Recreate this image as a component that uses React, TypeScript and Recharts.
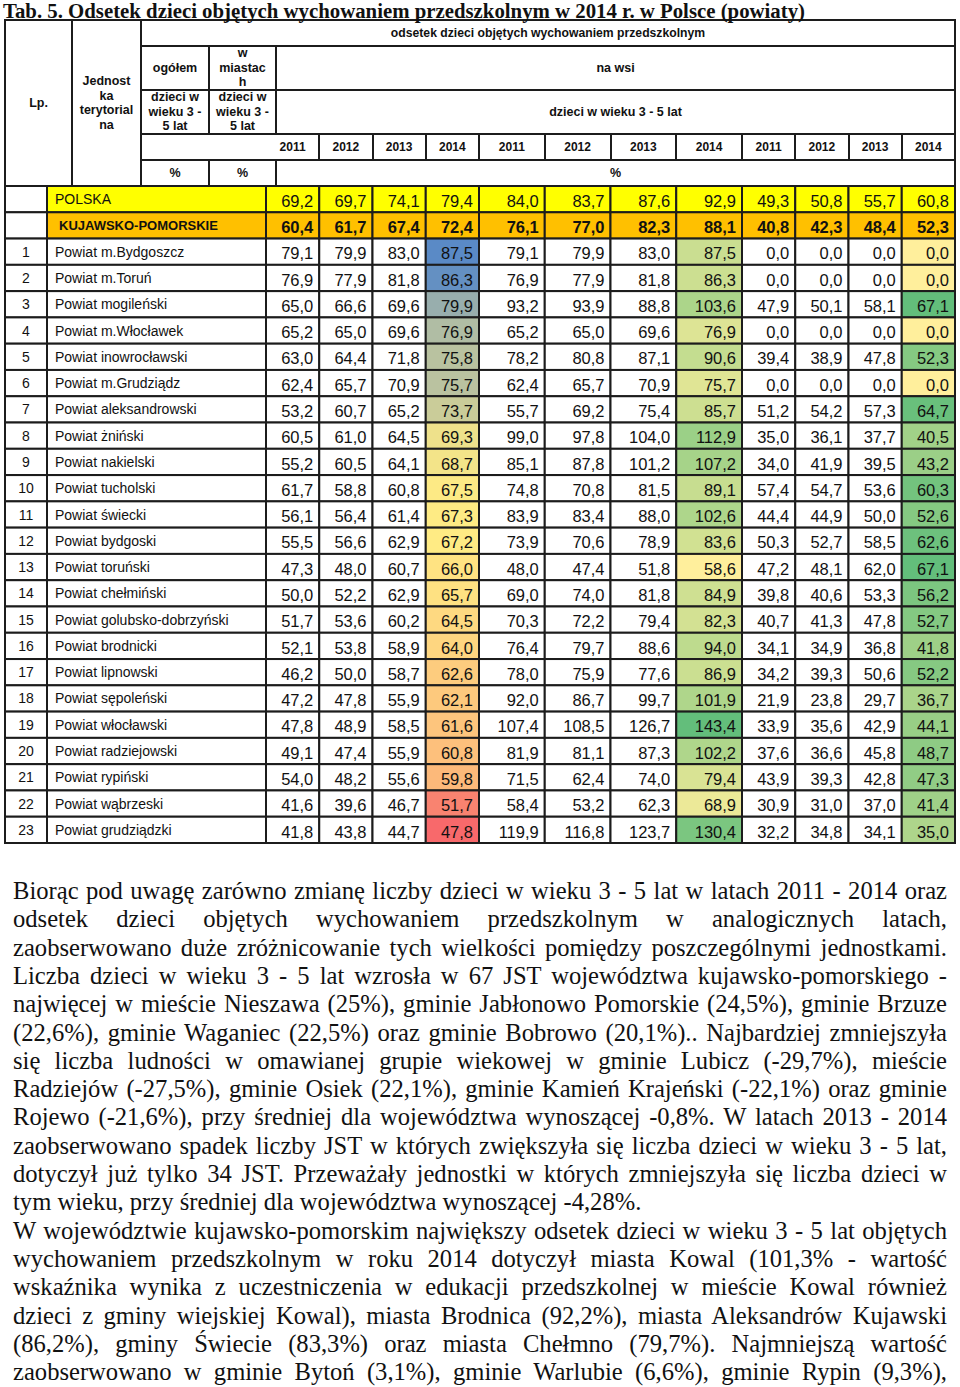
import React from 'react';
import { ScatterChart, Scatter, XAxis, YAxis } from 'recharts';

const TITLE = 'Tab. 5. Odsetek dzieci objętych wychowaniem przedszkolnym w 2014 r. w Polsce (powiaty)';
const YEARS = [2011, 2012, 2013, 2014];

const LP = ['', '', '1', '2', '3', '4', '5', '6', '7', '8', '9', '10', '11', '12', '13', '14', '15', '16', '17', '18', '19', '20', '21', '22', '23'];
const UNITS = [
  'POLSKA', 'KUJAWSKO-POMORSKIE', 'Powiat m.Bydgoszcz', 'Powiat m.Toruń', 'Powiat mogileński',
  'Powiat m.Włocławek', 'Powiat inowrocławski', 'Powiat m.Grudziądz', 'Powiat aleksandrowski',
  'Powiat żniński', 'Powiat nakielski', 'Powiat tucholski', 'Powiat świecki', 'Powiat bydgoski',
  'Powiat toruński', 'Powiat chełmiński', 'Powiat golubsko-dobrzyński', 'Powiat brodnicki',
  'Powiat lipnowski', 'Powiat sępoleński', 'Powiat włocławski', 'Powiat radziejowski',
  'Powiat rypiński', 'Powiat wąbrzeski', 'Powiat grudziądzki',
];

// ogółem
const TOTAL_2011 = [69.2, 60.4, 79.1, 76.9, 65.0, 65.2, 63.0, 62.4, 53.2, 60.5, 55.2, 61.7, 56.1, 55.5, 47.3, 50.0, 51.7, 52.1, 46.2, 47.2, 47.8, 49.1, 54.0, 41.6, 41.8];
const TOTAL_2012 = [69.7, 61.7, 79.9, 77.9, 66.6, 65.0, 64.4, 65.7, 60.7, 61.0, 60.5, 58.8, 56.4, 56.6, 48.0, 52.2, 53.6, 53.8, 50.0, 47.8, 48.9, 47.4, 48.2, 39.6, 43.8];
const TOTAL_2013 = [74.1, 67.4, 83.0, 81.8, 69.6, 69.6, 71.8, 70.9, 65.2, 64.5, 64.1, 60.8, 61.4, 62.9, 60.7, 62.9, 60.2, 58.9, 58.7, 55.9, 58.5, 55.9, 55.6, 46.7, 44.7];
const TOTAL_2014 = [79.4, 72.4, 87.5, 86.3, 79.9, 76.9, 75.8, 75.7, 73.7, 69.3, 68.7, 67.5, 67.3, 67.2, 66.0, 65.7, 64.5, 64.0, 62.6, 62.1, 61.6, 60.8, 59.8, 51.7, 47.8];
// w miastach
const CITY_2011 = [84.0, 76.1, 79.1, 76.9, 93.2, 65.2, 78.2, 62.4, 55.7, 99.0, 85.1, 74.8, 83.9, 73.9, 48.0, 69.0, 70.3, 76.4, 78.0, 92.0, 107.4, 81.9, 71.5, 58.4, 119.9];
const CITY_2012 = [83.7, 77.0, 79.9, 77.9, 93.9, 65.0, 80.8, 65.7, 69.2, 97.8, 87.8, 70.8, 83.4, 70.6, 47.4, 74.0, 72.2, 79.7, 75.9, 86.7, 108.5, 81.1, 62.4, 53.2, 116.8];
const CITY_2013 = [87.6, 82.3, 83.0, 81.8, 88.8, 69.6, 87.1, 70.9, 75.4, 104.0, 101.2, 81.5, 88.0, 78.9, 51.8, 81.8, 79.4, 88.6, 77.6, 99.7, 126.7, 87.3, 74.0, 62.3, 123.7];
const CITY_2014 = [92.9, 88.1, 87.5, 86.3, 103.6, 76.9, 90.6, 75.7, 85.7, 112.9, 107.2, 89.1, 102.6, 83.6, 58.6, 84.9, 82.3, 94.0, 86.9, 101.9, 143.4, 102.2, 79.4, 68.9, 130.4];
// na wsi
const RURAL_2011 = [49.3, 40.8, 0, 0, 47.9, 0, 39.4, 0, 51.2, 35.0, 34.0, 57.4, 44.4, 50.3, 47.2, 39.8, 40.7, 34.1, 34.2, 21.9, 33.9, 37.6, 43.9, 30.9, 32.2];
const RURAL_2012 = [50.8, 42.3, 0, 0, 50.1, 0, 38.9, 0, 54.2, 36.1, 41.9, 54.7, 44.9, 52.7, 48.1, 40.6, 41.3, 34.9, 39.3, 23.8, 35.6, 36.6, 39.3, 31.0, 34.8];
const RURAL_2013 = [55.7, 48.4, 0, 0, 58.1, 0, 47.8, 0, 57.3, 37.7, 39.5, 53.6, 50.0, 58.5, 62.0, 53.3, 47.8, 36.8, 50.6, 29.7, 42.9, 45.8, 42.8, 37.0, 34.1];
const RURAL_2014 = [60.8, 52.3, 0, 0, 67.1, 0, 52.3, 0, 64.7, 40.5, 43.2, 60.3, 52.6, 62.6, 67.1, 56.2, 52.7, 41.8, 52.2, 36.7, 44.1, 48.7, 47.3, 41.4, 35.0];

const PARAGRAPH = [
  'Biorąc pod uwagę zarówno zmianę liczby dzieci w wieku 3 - 5 lat w latach 2011 - 2014 oraz',
  'odsetek dzieci objętych wychowaniem przedszkolnym w analogicznych latach,',
  'zaobserwowano duże zróżnicowanie tych wielkości pomiędzy poszczególnymi jednostkami.',
  'Liczba dzieci w wieku 3 - 5 lat wzrosła w 67 JST województwa kujawsko-pomorskiego -',
  'najwięcej w mieście Nieszawa (25%), gminie Jabłonowo Pomorskie (24,5%), gminie Brzuze',
  '(22,6%), gminie Waganiec (22,5%) oraz gminie Bobrowo (20,1%).. Najbardziej zmniejszyła',
  'się liczba ludności w omawianej grupie wiekowej w gminie Lubicz (-29,7%), mieście',
  'Radziejów (-27,5%), gminie Osiek (22,1%), gminie Kamień Krajeński (-22,1%) oraz gminie',
  'Rojewo (-21,6%), przy średniej dla województwa wynoszącej -0,8%. W latach 2013 - 2014',
  'zaobserwowano spadek liczby JST w których zwiększyła się liczba dzieci w wieku 3 - 5 lat,',
  'dotyczył już tylko 34 JST. Przeważały jednostki w których zmniejszyła się liczba dzieci w',
  'tym wieku, przy średniej dla województwa wynoszącej -4,28%.',
  'W województwie kujawsko-pomorskim największy odsetek dzieci w wieku 3 - 5 lat objętych',
  'wychowaniem przedszkolnym w roku 2014 dotyczył miasta Kowal (101,3% - wartość',
  'wskaźnika wynika z uczestniczenia w edukacji przedszkolnej w mieście Kowal również',
  'dzieci z gminy wiejskiej Kowal), miasta Brodnica (92,2%), miasta Aleksandrów Kujawski',
  '(86,2%), gminy Świecie (83,3%) oraz miasta Chełmno (79,7%). Najmniejszą wartość',
  'zaobserwowano w gminie Bytoń (3,1%), gminie Warlubie (6,6%), gminie Rypin (9,3%),',
];
const PARAGRAPH_ENDS = [11];

// layout
const LINE = '#1c1c1c';
const SANS = '"Liberation Sans", Arial, sans-serif';
const SERIF = '"Liberation Serif", "Times New Roman", serif';
const TABLE_LEFT = 5;
const LABEL_W = 261;
const GROUP_EDGES = [266, 479, 742, 955];
const CHART_TOP = 186;
const CHART_H = 657;
const RH = CHART_H / UNITS.length;
const ROW_IDS = UNITS.map((_, i) => i);

const RED = [248, 105, 107];
const YEL = [255, 235, 132];
const BLUE = [90, 138, 198];
const GY_LOW = [255, 239, 156];
const GY_HIGH = [99, 190, 123];

const lerp = (a: number[], b: number[], t: number) =>
  `rgb(${a.map((v, i) => Math.round(v + (b[i] - v) * Math.max(0, Math.min(1, t)))).join(',')})`;

const unitValues = (arr: number[]) => arr.slice(2);

function threeColor(values: number[]) {
  const s = [...values].sort((a, b) => a - b);
  const min = s[0], max = s[s.length - 1], mid = s[Math.floor(s.length / 2)];
  return (v: number) => (v <= mid ? lerp(RED, YEL, (v - min) / (mid - min)) : lerp(YEL, BLUE, (v - mid) / (max - mid)));
}

function twoColor(values: number[]) {
  const min = Math.min(...values), max = Math.max(...values);
  return (v: number) => lerp(GY_LOW, GY_HIGH, (v - min) / (max - min));
}

const fmt = (v: number) => v.toFixed(1).replace('.', ',');

function buildPoints(cols: number[][]) {
  const pts: { year: number; row: number; value: number }[] = [];
  cols.forEach((col, ci) => col.forEach((value, row) => pts.push({ year: YEARS[ci], row, value })));
  return pts;
}

const RowTick = (props: any) => {
  const { y, payload } = props;
  const i = payload.value;
  const fill = i === 0 ? '#ffff00' : i === 1 ? '#ffc000' : '#ffffff';
  return (
    <g>
      <rect x={0} y={y - RH / 2} width={42} height={RH} fill="#fff" stroke={LINE} strokeWidth={2} />
      <text x={21} y={y + 5} textAnchor="middle" fontFamily={SANS} fontSize={14} fill="#111">{LP[i]}</text>
      <rect x={42} y={y - RH / 2} width={LABEL_W - 42} height={RH} fill={fill} stroke={LINE} strokeWidth={2} />
      <text x={i === 1 ? 54 : 50} y={y + 5} fontFamily={SANS} fontSize={i === 1 ? 13 : 14} fontWeight={i === 1 ? 'bold' : 'normal'} fill="#111">{UNITS[i]}</text>
    </g>
  );
};

function GroupChart({ left, width, axisWidth, cols }: { left: number; width: number; axisWidth: number; cols: number[][] }) {
  const data = buildPoints(cols);
  const cw = (width - axisWidth) / YEARS.length;
  const last = cols[cols.length - 1];
  const colorFor = axisWidth > 0 ? threeColor(unitValues(last)) : twoColor(unitValues(last));
  const shape = (p: any) => {
    const { cx, cy, payload } = p;
    const { row, year, value } = payload;
    let fill = '#ffffff';
    if (row === 0) fill = '#ffff00';
    else if (row === 1) fill = '#ffc000';
    else if (year === YEARS[YEARS.length - 1]) fill = colorFor(value);
    return (
      <g>
        <rect x={cx - cw / 2} y={cy - RH / 2} width={cw} height={RH} fill={fill} stroke={LINE} strokeWidth={2} />
        <text x={cx + cw / 2 - 6} y={cy + RH / 2 - 5.5} textAnchor="end" fontFamily={SANS} fontSize={16.5}
          fontWeight={row === 1 ? 'bold' : 'normal'} fill="#111">{fmt(value)}</text>
      </g>
    );
  };
  return (
    <div style={{ position: 'absolute', left, top: CHART_TOP }}>
      <ScatterChart width={width} height={CHART_H} margin={{ top: 0, right: 0, bottom: 0, left: 0 }}>
        <XAxis type="number" dataKey="year" domain={[YEARS[0] - 0.5, YEARS[YEARS.length - 1] + 0.5]} hide />
        <YAxis type="number" dataKey="row" domain={[-0.5, UNITS.length - 0.5]} reversed ticks={ROW_IDS}
          interval={0} hide={axisWidth === 0} width={axisWidth || 1} axisLine={false} tickLine={false} tick={RowTick} />
        <Scatter data={data} isAnimationActive={false} shape={shape} />
      </ScatterChart>
    </div>
  );
}

function Box({ x0, y0, x1, y1, children, style }: any) {
  return (
    <div style={{
      position: 'absolute', left: x0 - 1, top: y0 - 1, width: x1 - x0 + 2, height: y1 - y0 + 2,
      border: `2px solid ${LINE}`, boxSizing: 'border-box', display: 'flex', alignItems: 'center',
      justifyContent: 'center', textAlign: 'center', fontFamily: SANS, fontWeight: 'bold', fontSize: 12.5,
      lineHeight: '14.5px', color: '#111', ...style,
    }}>{children}</div>
  );
}

function columnEdges() {
  const edges: number[] = [];
  for (let g = 0; g < 3; g++) {
    const w = (GROUP_EDGES[g + 1] - GROUP_EDGES[g]) / YEARS.length;
    for (let k = 0; k < YEARS.length; k++) edges.push(GROUP_EDGES[g] + k * w);
  }
  edges.push(GROUP_EDGES[3]);
  return edges;
}

function Header() {
  const edges = columnEdges();
  const ageLabel = <>dzieci w<br />wieku 3 -<br />5 lat</>;
  return (
    <>
      <Box x0={TABLE_LEFT} y0={20} x1={72} y1={186}>Lp.</Box>
      <Box x0={72} y0={20} x1={141} y1={186}>Jednost<br />ka<br />terytorial<br />na</Box>
      <Box x0={141} y0={20} x1={955} y1={46} style={{ fontSize: 12.2 }}>odsetek dzieci objętych wychowaniem przedszkolnym</Box>
      <Box x0={141} y0={46} x1={209} y1={90}>ogółem</Box>
      <Box x0={209} y0={46} x1={276} y1={90}>w<br />miastac<br />h</Box>
      <Box x0={276} y0={46} x1={955} y1={90}>na wsi</Box>
      <Box x0={141} y0={90} x1={209} y1={134}>{ageLabel}</Box>
      <Box x0={209} y0={90} x1={276} y1={134}>{ageLabel}</Box>
      <Box x0={276} y0={90} x1={955} y1={134}>dzieci w wieku 3 - 5 lat</Box>
      {edges.slice(0, -1).map((e, i) => (
        <Box key={'yb' + i} x0={i === 0 ? 141 : e} y0={134} x1={edges[i + 1]} y1={160} />
      ))}
      {edges.slice(0, -1).map((e, i) => (
        <div key={'yl' + i} style={{
          position: 'absolute', left: e, top: 134, width: edges[i + 1] - e, height: 26, lineHeight: '26px',
          textAlign: 'center', fontFamily: SANS, fontWeight: 'bold', fontSize: 12, color: '#111',
        }}>{YEARS[i % YEARS.length]}</div>
      ))}
      <Box x0={141} y0={160} x1={209} y1={186}>%</Box>
      <Box x0={209} y0={160} x1={276} y1={186}>%</Box>
      <Box x0={276} y0={160} x1={955} y1={186}>%</Box>
    </>
  );
}

export default function App() {
  return (
    <div style={{ position: 'absolute', left: 0, top: 0, width: 960, height: 1387, background: '#fff', overflow: 'hidden' }}>
      <style>{`.recharts-surface{overflow:visible}`}</style>
      <Header />
      <GroupChart left={TABLE_LEFT} width={GROUP_EDGES[1] - TABLE_LEFT} axisWidth={LABEL_W}
        cols={[TOTAL_2011, TOTAL_2012, TOTAL_2013, TOTAL_2014]} />
      <GroupChart left={GROUP_EDGES[1]} width={GROUP_EDGES[2] - GROUP_EDGES[1]} axisWidth={0}
        cols={[CITY_2011, CITY_2012, CITY_2013, CITY_2014]} />
      <GroupChart left={GROUP_EDGES[2]} width={GROUP_EDGES[3] - GROUP_EDGES[2]} axisWidth={0}
        cols={[RURAL_2011, RURAL_2012, RURAL_2013, RURAL_2014]} />
      <div style={{
        position: 'absolute', left: 3, top: -1.5, zIndex: 2, fontFamily: SERIF, fontWeight: 'bold', fontSize: 20.8,
        lineHeight: 'normal', whiteSpace: 'nowrap', color: '#111',
      }}>{TITLE}</div>
      {PARAGRAPH.map((line, i) => (
        <div key={i} style={{
          position: 'absolute', left: 13, top: 877 + i * 28.3, width: 934, height: 28.3,
          fontFamily: SERIF, fontSize: 24.6, lineHeight: '28.3px', color: '#111',
          textAlign: PARAGRAPH_ENDS.includes(i) ? 'left' : 'justify',
          textAlignLast: PARAGRAPH_ENDS.includes(i) ? 'left' : 'justify',
        } as React.CSSProperties}>{line}</div>
      ))}
    </div>
  );
}
